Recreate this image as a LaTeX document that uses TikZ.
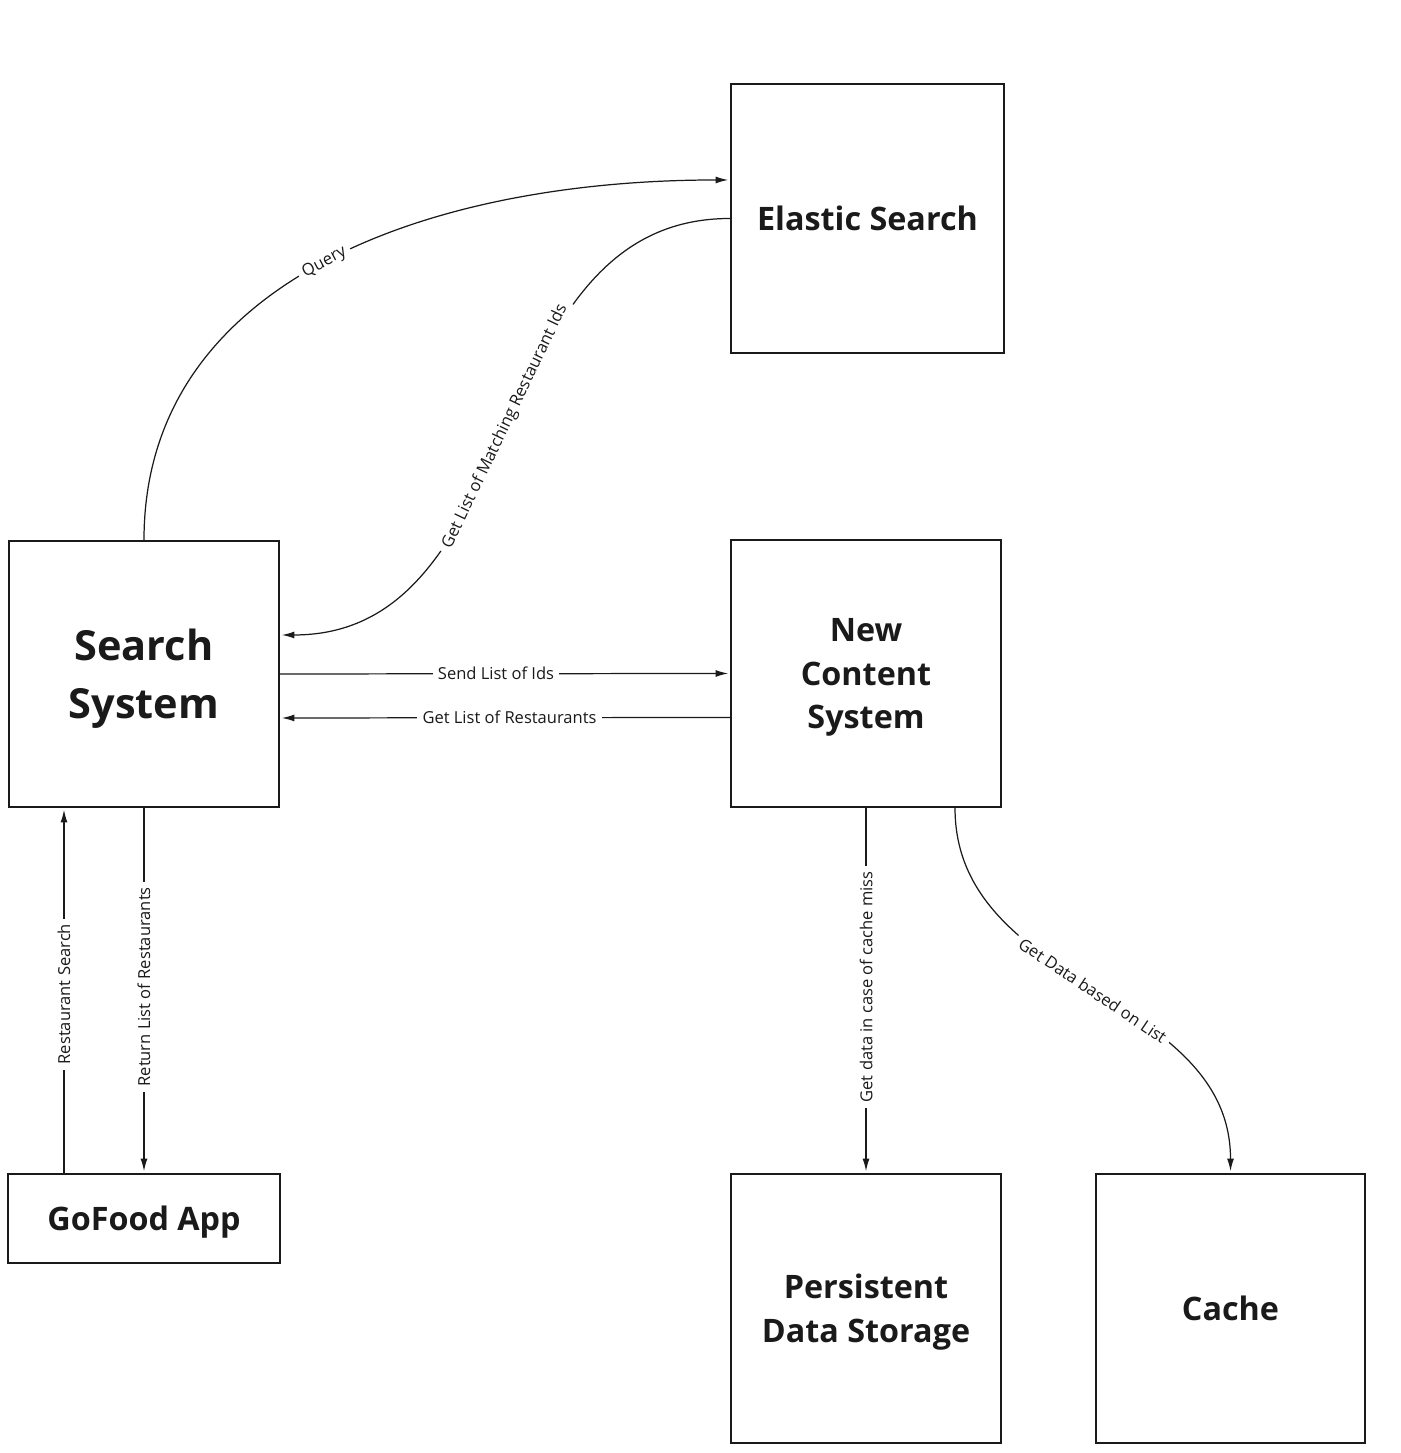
\documentclass[tikz,border=0pt]{standalone}
\usepackage{fontspec}
\setmainfont{Open Sans}
\usetikzlibrary{arrows.meta}
\definecolor{GFInk}{HTML}{1A1A1A}

\begin{document}
\begin{tikzpicture}[x=1cm,y=1cm,
  box/.style={draw=GFInk,line width=0.6pt,align=center,inner sep=0pt,text depth=0pt,text=GFInk,font=\bfseries\fontsize{9.2}{12.5}\selectfont},
  flow/.style={draw=GFInk,line width=0.35pt,shorten >=0.5pt,-{Latex[length=3.6pt,width=2pt]}},
  lbl/.style={fill=white,inner xsep=1.5pt,inner ysep=0.6pt,text=GFInk,font=\fontsize{4.7}{5.5}\selectfont}]
\path[use as bounding box] (0,0) rectangle (14.00,14.53);
% boxes
\node[box,minimum width=2.73cm,minimum height=2.69cm] (es) at (8.675,12.345) {Elastic Search};
\node[box,minimum width=2.70cm,minimum height=2.66cm,font=\bfseries\fontsize{11.8}{16.5}\selectfont] (search) at (1.44,7.79) {Search\\System};
\node[box,minimum width=2.70cm,minimum height=2.67cm] (ncs) at (8.66,7.795) {New\\Content\\System};
\node[box,minimum width=2.72cm,minimum height=0.89cm] (gofood) at (1.44,2.345) {GoFood App};
\node[box,minimum width=2.70cm,minimum height=2.69cm] (pds) at (8.66,1.445) {Persistent\\Data Storage};
\node[box,minimum width=2.69cm,minimum height=2.69cm] (cache) at (12.305,1.445) {Cache};
% connectors
\draw[flow] (search.north) .. controls +(0,2.6) and +(-3.0,0) .. ([yshift=3.85mm]es.west) node[lbl,sloped,pos=0.5] {Query};
\draw[flow] (es.west) .. controls +(-2.5,0) and +(2.5,0) .. ([yshift=3.9mm]search.east) node[lbl,sloped,pos=0.5] {Get List of Matching Restaurant Ids};
\draw[flow] (search.east) -- (ncs.west) node[lbl,pos=0.48] {Send List of Ids};
\draw[flow] ([yshift=-4.4mm]ncs.west) -- ([yshift=-4.4mm]search.east) node[lbl,pos=0.49] {Get List of Restaurants};
\draw[flow] ([xshift=-8mm]gofood.north) -- ([xshift=-8mm]search.south) node[lbl,rotate=90,pos=0.49] {Restaurant Search};
\draw[flow] (search.south) -- (gofood.north) node[lbl,rotate=90,pos=0.49] {Return List of Restaurants};
\draw[flow] (ncs.south) -- (pds.north) node[lbl,rotate=90,pos=0.49] {Get data in case of cache miss};
\draw[flow] ([xshift=8.9mm]ncs.south) .. controls +(0,-1.8) and +(0,1.8) .. (cache.north) node[lbl,sloped,pos=0.5] {Get Data based on List};
\end{tikzpicture}
\end{document}
